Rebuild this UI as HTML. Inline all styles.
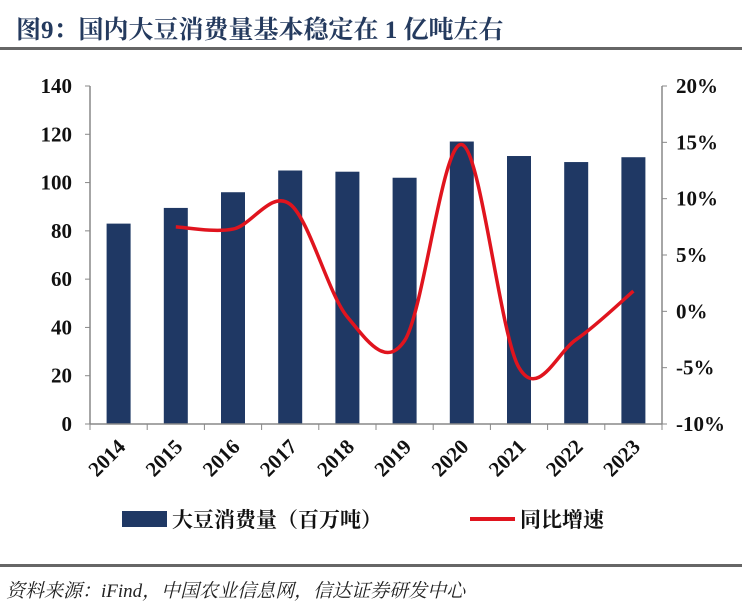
<!DOCTYPE html>
<html><head><meta charset="utf-8"><style>
body{margin:0;background:#fff;width:742px;height:609px;overflow:hidden;font-family:"Liberation Serif","Noto Serif CJK SC",serif}
</style></head><body>
<svg width="742" height="609" xmlns="http://www.w3.org/2000/svg">
<text x="16" y="38" font-size="25" font-weight="bold" fill="#243a5e" font-family="'Liberation Serif','Noto Serif CJK SC',serif">图9：国内大豆消费量基本稳定在 1 亿吨左右</text>
<rect x="0" y="47" width="742" height="3" fill="#666"/>
<rect x="0" y="564" width="742" height="3" fill="#666"/>
<text x="6" y="597" font-size="19" font-style="italic" fill="#222" font-family="'Liberation Serif','Noto Serif CJK SC',serif">资料来源：iFind，中国农业信息网，信达证券研发中心</text>
<g id="plot"></g>
</svg>
<script>
const categories=["2014","2015","2016","2017","2018","2019","2020","2021","2022","2023"];
const consumption=[83,89.5,96,105,104.5,102,117,111,108.5,110.5];
const growth=[null,7.5,7.3,9.5,-0.5,-2.6,14.8,-5,-2.5,1.8];
const leftTicks=[0,20,40,60,80,100,120,140];
const rightTicks=[-10,-5,0,5,10,15,20];
const NS="http://www.w3.org/2000/svg";
const g=document.getElementById('plot');
const X0=90,X1=662,Y0=424,Y1=86;
const step=(X1-X0)/categories.length;
const xc=i=>X0+step*(i+0.5);
const yl=v=>Y0-(v/140)*(Y0-Y1);
const yr=v=>Y0-((v+10)/30)*(Y0-Y1);
function el(t,a,txt){const e=document.createElementNS(NS,t);for(const k in a)e.setAttribute(k,a[k]);if(txt!=null)e.textContent=txt;g.appendChild(e);return e;}
consumption.forEach((v,i)=>{const e=el('rect',{x:xc(i)-12,y:yl(v),width:24,height:Y0-yl(v),fill:'#1f3864'});

});
let a=el('line',{x1:X0,y1:Y1,x2:X0,y2:Y0,stroke:'#888','stroke-width':1.5});

a=el('line',{x1:X1,y1:Y1,x2:X1,y2:Y0,stroke:'#888','stroke-width':1.5});

a=el('line',{x1:X0,y1:Y0,x2:X1,y2:Y0,stroke:'#888','stroke-width':1.5});

leftTicks.forEach(v=>{el('line',{x1:X0-5,y1:yl(v),x2:X0,y2:yl(v),stroke:'#888'});
const t=el('text',{x:X0-18,y:yl(v)+7,'text-anchor':'end','font-size':21,'font-weight':'bold',fill:'#111'},v);
});
rightTicks.forEach(v=>{el('line',{x1:X1,y1:yr(v),x2:X1+5,y2:yr(v),stroke:'#888'});
const t=el('text',{x:X1+14,y:yr(v)+7,'font-size':21,'font-weight':'bold',fill:'#111'},v+'%');
});
for(let i=0;i<=categories.length;i++)el('line',{x1:X0+step*i,y1:Y0,x2:X0+step*i,y2:Y0+6,stroke:'#888'});
categories.forEach((c,i)=>{const x=xc(i)+8,y=Y0+24;
const t=el('text',{x:x,y:y,'text-anchor':'end','font-size':21,'font-weight':'bold',fill:'#111',transform:`rotate(-45 ${x} ${y})`},c);
});
const pts=[];growth.forEach((v,i)=>{if(v!=null)pts.push([xc(i),yr(v)]);});
let d=`M${pts[0][0]},${pts[0][1]}`;
for(let i=0;i<pts.length-1;i++){const p0=pts[i-1]||pts[i],p1=pts[i],p2=pts[i+1],p3=pts[i+2]||p2;
const c1=[p1[0]+(p2[0]-p0[0])/6,p1[1]+(p2[1]-p0[1])/6],c2=[p2[0]-(p3[0]-p1[0])/6,p2[1]-(p3[1]-p1[1])/6];
d+=` C${c1[0]},${c1[1]} ${c2[0]},${c2[1]} ${p2[0]},${p2[1]}`;}
const ln=el('path',{d:d,fill:'none',stroke:'#e0141e','stroke-width':3.5});

let r=el('rect',{x:122,y:511,width:45,height:16,fill:'#1f3864'});

let t=el('text',{x:172,y:527,'font-size':21,'font-weight':'bold',fill:'#111'},'大豆消费量（百万吨）');

r=el('line',{x1:470,y1:519,x2:515,y2:519,stroke:'#e0141e','stroke-width':4});

t=el('text',{x:520,y:527,'font-size':21,'font-weight':'bold',fill:'#111'},'同比增速');

</script>
</body></html>
